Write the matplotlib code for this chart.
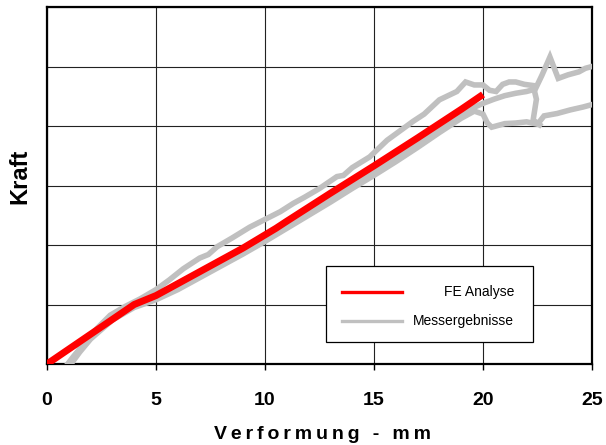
import matplotlib
matplotlib.use("Agg")
import matplotlib.pyplot as plt
from matplotlib.patches import Rectangle
from matplotlib.lines import Line2D

# ---- data ----
fe_x = [0, 2, 4, 5, 7, 9, 10.5, 11, 13, 15, 17, 19, 20]
fe_y = [0, 0.5, 1.0, 1.15, 1.55, 1.95, 2.28, 2.4, 2.87, 3.33, 3.8, 4.28, 4.53]

mess_a_x = [0.95, 1.2, 1.5, 1.8, 2.3, 2.9, 3.6, 4.3, 5.0, 5.6, 6.25, 7.0, 7.4, 7.8, 8.5,
            9.3, 10.0, 10.7, 11.3, 11.8, 12.5, 13.3, 13.6, 14.0, 14.8, 15.2, 15.6, 16.2,
            16.8, 17.3, 18.0, 18.8, 19.2, 19.6, 20.0, 20.3, 20.6, 20.9, 21.2, 21.5,
            21.9, 22.3, 22.45, 22.3, 22.6]
mess_a_y = [0, 0.12, 0.25, 0.4, 0.6, 0.82, 0.97, 1.1, 1.25, 1.41, 1.6, 1.78, 1.84, 1.97, 2.12,
            2.3, 2.43, 2.56, 2.7, 2.8, 2.95, 3.15, 3.17, 3.3, 3.48, 3.62, 3.76, 3.92,
            4.08, 4.2, 4.44, 4.58, 4.74, 4.69, 4.69, 4.6, 4.58, 4.7, 4.74, 4.74,
            4.7, 4.68, 4.45, 4.1, 4.02]

mess_b_x = [1.0, 1.3, 1.7, 2.2, 3.0, 4.0, 5.0, 6.0, 7.0, 8.0, 9.0, 10.0, 11.0, 12.0,
            13.0, 14.0, 15.0, 16.0, 17.0, 18.0, 19.0, 19.5, 20.0, 20.5, 21.0, 21.5,
            22.0, 22.4, 22.7, 23.07, 23.45, 23.9, 24.4, 24.7, 25.0]
mess_b_y = [0, 0.15, 0.35, 0.55, 0.78, 0.98, 1.12, 1.3, 1.5, 1.7, 1.9, 2.12, 2.35, 2.58,
            2.8, 3.03, 3.25, 3.48, 3.72, 3.97, 4.21, 4.3, 4.38, 4.45, 4.51, 4.55,
            4.58, 4.62, 4.85, 5.16, 4.8, 4.86, 4.91, 4.97, 5.0]

mess_c_x = [1.1, 1.5, 2.0, 3.0, 4.0, 5.0, 6.0, 7.0, 8.0, 9.0, 10.0, 11.0, 12.0, 13.0,
            14.0, 15.0, 16.0, 17.0, 18.0, 19.0, 19.6, 20.0, 20.2, 20.4, 21.0, 21.5,
            22.0, 22.5, 22.8, 23.4, 24.0, 24.6, 25.0]
mess_c_y = [0, 0.2, 0.42, 0.74, 0.95, 1.08, 1.25, 1.45, 1.65, 1.85, 2.06, 2.28, 2.5, 2.72,
            2.95, 3.17, 3.4, 3.64, 3.89, 4.13, 4.25, 4.2, 4.05, 3.98, 4.04, 4.05,
            4.07, 4.03, 4.17, 4.21, 4.27, 4.32, 4.36]

x_ticks = [0, 5, 10, 15, 20, 25]
y_ticks = [0, 1, 2, 3, 4, 5, 6]
x_label = "Verformung - mm"
y_label = "Kraft"
legend_labels = ["FE Analyse", "Messergebnisse"]

RED = "#FF0000"
GRAY = "#C0C0C0"

plt.rcParams['font.family'] = ['Liberation Sans', 'DejaVu Sans']

fig = plt.figure(figsize=(6.06, 4.45), dpi=100)
ax = fig.add_axes([47/606, 1-364/445, 545/606, 357/445])

for xs, ys in [(mess_a_x, mess_a_y), (mess_b_x, mess_b_y), (mess_c_x, mess_c_y)]:
    ax.plot(xs, ys, color=GRAY, lw=4, solid_joinstyle='miter', zorder=3)
ax.plot(fe_x, fe_y, color=RED, lw=5, solid_capstyle='butt', zorder=4)

ax.set_xlim(0, 25)
ax.set_ylim(0, 6)
ax.set_xticks(x_ticks)
ax.set_xticklabels([str(t) for t in x_ticks], fontsize=14, fontweight='bold')
ax.set_yticks(y_ticks)
ax.set_yticklabels([])
ax.tick_params(axis='y', length=0)
ax.tick_params(axis='x', length=4, width=1, pad=16, direction='out')
ax.set_axisbelow(True)
ax.grid(True, color='#222222', lw=0.8)
for s in ax.spines.values():
    s.set_linewidth(1.6)
    s.set_color('black')

# legend drawn manually (right-aligned texts as in reference)
lx0, lx1 = (326-47)/545, (533-47)/545
ly0, ly1 = (364-342)/357, (364-266)/357
ax.add_patch(Rectangle((lx0, ly0), lx1-lx0, ly1-ly0, transform=ax.transAxes,
                       facecolor='white', edgecolor='black', lw=0.9, zorder=6))
hx0, hx1 = (342-47)/545, (402-47)/545
tx = (514-47)/545
for yy, col, lab in [((364-292)/357, RED, legend_labels[0]), ((364-321)/357, GRAY, legend_labels[1])]:
    ax.add_line(Line2D([hx0, hx1], [yy, yy], transform=ax.transAxes, color=col,
                       lw=2.4, zorder=7))
    ax.text(tx, yy, lab, transform=ax.transAxes, ha='right', va='center',
            fontsize=10, zorder=7)

sp = '\u2009'
fig.text(322/606, (445-439)/445, sp.join(x_label), ha='center', va='baseline',
         fontsize=14, fontweight='bold')
fig.text(20/606, (445-176)/445, y_label, ha='center', va='center', rotation=90,
         fontsize=17, fontweight='bold')

fig.savefig("out.png", dpi=100)
